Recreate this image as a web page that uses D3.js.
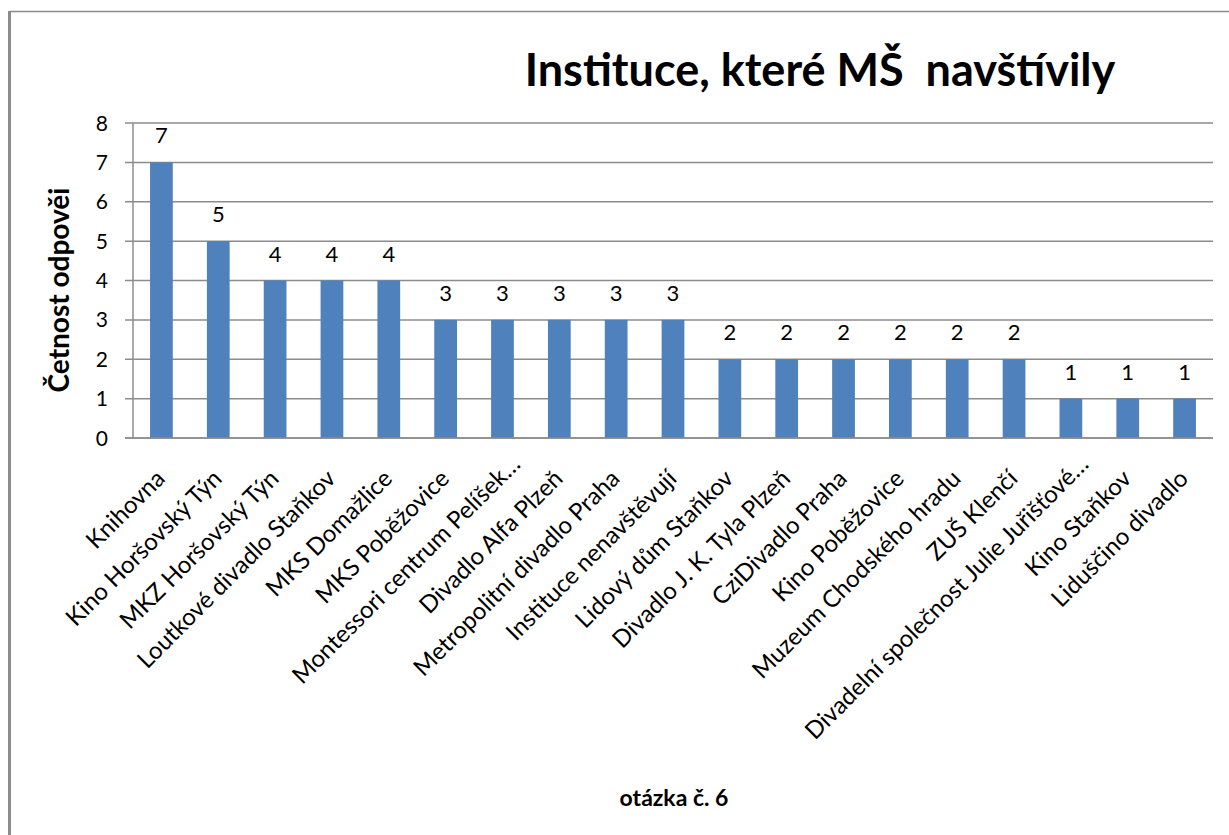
<!DOCTYPE html>
<html><head><meta charset="utf-8">
<script src="https://cdn.jsdelivr.net/npm/d3@7"></script>
<style>body{margin:0;background:#fff;} svg{display:block;font-family:Lato, "Open Sans", sans-serif;}</style>
</head><body>
<svg id="c" width="1229" height="835"></svg>
<script>
const categories = ["Knihovna","Kino Horšovský Týn","MKZ Horšovský Týn","Loutkové divadlo Staňkov","MKS Domažlice","MKS Poběžovice","Montessori centrum Pelíšek…","Divadlo Alfa Plzeň","Metropolitní divadlo Praha","Instituce nenavštěvují","Lidový dům Staňkov","Divadlo J. K. Tyla Plzeň","CziDivadlo Praha","Kino Poběžovice","Muzeum Chodského hradu","ZUŠ Klenčí","Divadelní společnost Julie Juřišťové…","Kino Staňkov","Liduščino divadlo"];
const values = [7,5,4,4,4,3,3,3,3,3,2,2,2,2,2,2,1,1,1];
const yTicks = [0,1,2,3,4,5,6,7,8];
const title = "Instituce, které MŠ  navštívily";
const yTitle = "Četnost odpověi";
const xTitle = "otázka č. 6";

const svg = d3.select("#c");
// chart frame
svg.append("line").attr("x1",9.5).attr("x2",1229).attr("y1",11.5).attr("y2",11.5).attr("stroke","#8c8c8c").attr("stroke-width",1.5);
svg.append("line").attr("x1",9.5).attr("x2",9.5).attr("y1",11).attr("y2",835).attr("stroke","#8c8c8c").attr("stroke-width",3);

const L=133, R=1213, T=123, B=438;
const x = d3.scaleBand().domain(categories).range([L,R]).paddingInner(0.6).paddingOuter(0.3);
const y = d3.scaleLinear().domain([0,8]).range([B,T]);

// gridlines
svg.append("g").selectAll("line").data(yTicks).join("line")
  .attr("x1",125).attr("x2",R).attr("y1",d=>y(d)).attr("y2",d=>y(d))
  .attr("stroke","#8c8c8c").attr("stroke-width",1.5);
// y axis line
svg.append("line").attr("x1",L).attr("x2",L).attr("y1",T).attr("y2",B).attr("stroke","#8c8c8c").attr("stroke-width",1.5);
// y tick labels
svg.append("g").selectAll("text").data(yTicks).join("text")
  .attr("x",108).attr("y",d=>y(d)).attr("dy","0.36em").attr("text-anchor","end")
  .attr("font-size",21).attr("fill","#000").text(d=>d);

// bars
svg.append("g").selectAll("rect").data(values).join("rect")
  .attr("x",(d,i)=>x(categories[i])).attr("width",x.bandwidth())
  .attr("y",d=>y(d)).attr("height",d=>B-y(d)).attr("fill","#4F81BD");
// baseline over bars
svg.append("line").attr("x1",125).attr("x2",R).attr("y1",B).attr("y2",B).attr("stroke","#8c8c8c").attr("stroke-width",1.5);

// data labels
svg.append("g").selectAll("text").data(values).join("text")
  .attr("x",(d,i)=>x(categories[i])+x.bandwidth()/2).attr("y",d=>y(d)-19)
  .attr("text-anchor","middle").attr("font-size",22).attr("fill","#000").text(d=>d);

// category labels (truncated labels sit a little further along, as in the source)
svg.append("g").selectAll("text").data(categories).join("text")
  .attr("transform",d=>`translate(${x(d)+x.bandwidth()/2+5},${B+42}) rotate(-45)`)
  .attr("dx",d=>d.endsWith("…")?20:0)
  .attr("text-anchor","end").attr("font-size",24).attr("fill","#000").text(d=>d);

// titles
svg.append("text").attr("x",820).attr("y",86).attr("text-anchor","middle").style("white-space","pre")
  .attr("font-size",45).attr("font-weight","bold").attr("fill","#000").text(title);
svg.append("text").attr("transform","translate(69,290) rotate(-90)").attr("text-anchor","middle")
  .attr("font-size",28).attr("font-weight","bold").attr("fill","#000").text(yTitle);
svg.append("text").attr("x",674).attr("y",806).attr("text-anchor","middle")
  .attr("font-size",23).attr("font-weight","bold").attr("fill","#000").text(xTitle);
</script>
</body></html>
